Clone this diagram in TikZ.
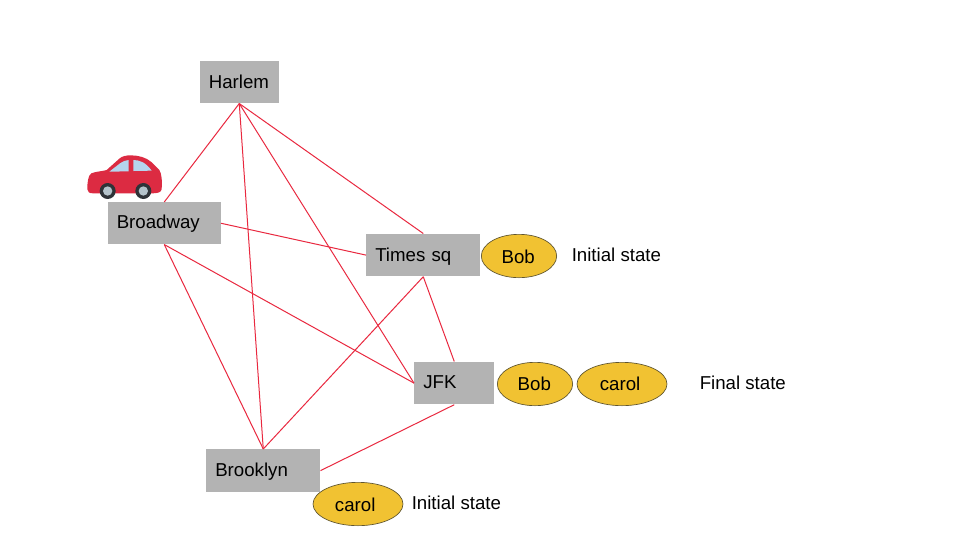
\documentclass[tikz,border=0pt]{standalone}
\usepackage{fontspec}
\setmainfont{Liberation Sans}
\definecolor{boxgray}{HTML}{B3B3B3}
\definecolor{edgered}{HTML}{E9283F}
\definecolor{pass}{HTML}{F1C232}
\definecolor{passline}{HTML}{5F5530}
\definecolor{carred}{HTML}{DC2B42}
\definecolor{carglass}{HTML}{B5D5EE}
\definecolor{wheeldark}{HTML}{2E3338}
\definecolor{wheelhub}{HTML}{B4C3CB}
\newcommand{\nudge}[2]{\raisebox{#1}[\height][\depth]{#2}}
\tikzset{
  place/.style={fill=boxgray,draw=none,anchor=north west,inner xsep=9pt*0.75,inner ysep=0pt,align=left,font=\fontsize{14}{17}\selectfont},
  person/.style={ellipse,fill=pass,draw=passline,line width=0.5pt,inner sep=0pt,font=\fontsize{14}{17}\selectfont},
  note/.style={inner sep=0pt,font=\fontsize{14}{17}\selectfont},
  road/.style={draw=edgered,line width=0.75pt}
}
\usetikzlibrary{shapes.geometric}
\begin{document}
\begin{tikzpicture}[x=0.75pt,y=-0.75pt]
\useasboundingbox[fill=white] (0,0) rectangle (960,540);
% places
\node[place,minimum width=59.25pt,minimum height=31.5pt,text width=45.75pt,align=center] (harlem) at (199.5,61) {Harlem\kern0.6pt};
\node[place,minimum width=84.75pt,minimum height=31.5pt,text width=71.25pt] (broadway) at (107.5,202) {Broadway};
\node[place,minimum width=85.5pt,minimum height=32pt,text width=72pt] (times) at (366,233.5) {\nudge{-0.8pt}{Times sq}};
\node[place,minimum width=60pt,minimum height=32pt,text width=46.5pt] (jfk) at (414,361.5) {\nudge{0.4pt}{JFK}};
\node[place,minimum width=85.5pt,minimum height=32pt,text width=72pt] (brooklyn) at (206,449) {\nudge{-1pt}{Brooklyn}};
% roads
\draw[road] (harlem.south) -- (broadway.north);
\draw[road] (harlem.south) -- (brooklyn.north);
\draw[road] (harlem.south) -- (times.north);
\draw[road] (harlem.south) -- (jfk.west);
\draw[road] (broadway.east) -- (times.west);
\draw[road] (broadway.south) -- (jfk.west);
\draw[road] (broadway.south) -- (brooklyn.north);
\draw[road] (times.south) -- (brooklyn.north);
\draw[road] (times.south) -- (jfk.north);
\draw[road] (jfk.south) -- (brooklyn.east);
% people
\node[person,minimum width=56.5pt,minimum height=32.5pt] (bobA) at (519,256) {\nudge{-0.8pt}{Bob\kern1.2pt}};
\node[person,minimum width=56.5pt,minimum height=32.5pt] (bobB) at (535,384) {Bob\kern1pt};
\node[person,minimum width=67.5pt,minimum height=32.5pt] (carolA) at (622,384) {carol\kern2.8pt};
\node[person,minimum width=67.5pt,minimum height=32.5pt] (carolB) at (358,504) {\nudge{-0.6pt}{carol\kern4.2pt}};
% notes
\node[note,anchor=west] (n1) at (571.5,254.5) {Initial state};
\node[note,anchor=west] (n2) at (699.5,382.5) {Final state};
\node[note,anchor=west] (n3) at (411.5,502.5) {Initial state};
% car
\begin{scope}[shift={(70,140)},x=0.25pt,y=-0.25pt]
\fill[carred] (52,148) .. controls (52,128) and (54,106) .. (64,100)
  .. controls (78,94) and (98,94) .. (110,90)
  -- (148,56) .. controls (156,48) and (170,46) .. (182,46)
  .. controls (205,46) and (228,52) .. (244,66)
  -- (268,90) .. controls (275,100) and (277,125) .. (275,148)
  .. controls (273,158) and (262,160) .. (245,160)
  -- (70,160) .. controls (58,160) and (52,156) .. (52,148) -- cycle;
\fill[carglass] (118,95) -- (150,70) .. controls (158,64) and (166,61) .. (176,60) -- (176,94) -- cycle;
\fill[carglass] (190,60) .. controls (210,60) and (228,68) .. (245,92) -- (190,93) -- cycle;
\fill[wheeldark] (113,153) circle[radius=24];
\fill[wheelhub] (113,153) circle[radius=14];
\fill[wheeldark] (220,153) circle[radius=24];
\fill[wheelhub] (220,153) circle[radius=14];
\end{scope}
\end{tikzpicture}
\end{document}
